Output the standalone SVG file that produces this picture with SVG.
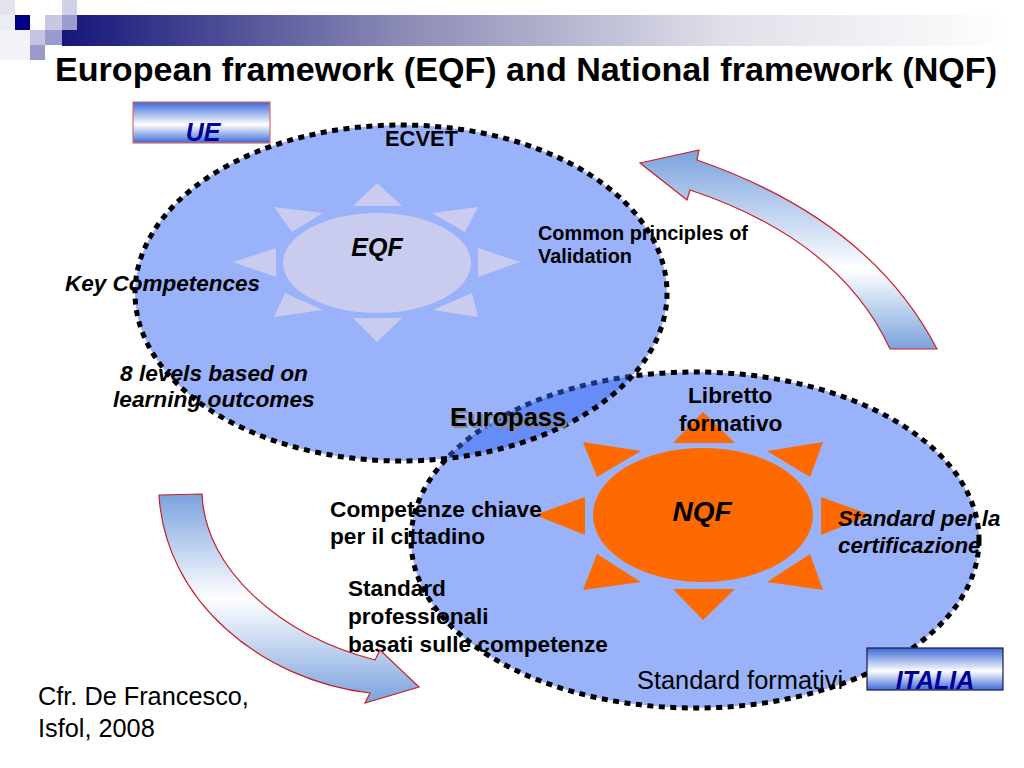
<svg xmlns="http://www.w3.org/2000/svg" width="1024" height="768" viewBox="0 0 1024 768">
<defs>
<linearGradient id="bar" x1="0" y1="0" x2="1" y2="0">
<stop offset="0" stop-color="#16167a"/>
<stop offset="0.35" stop-color="#8888b4"/>
<stop offset="0.7" stop-color="#e0e0ea"/>
<stop offset="1" stop-color="#ffffff"/>
</linearGradient>
<linearGradient id="box" x1="0" y1="0" x2="0" y2="1">
<stop offset="0" stop-color="#3b6ad6"/>
<stop offset="0.55" stop-color="#ffffff"/>
<stop offset="1" stop-color="#3b6ad6"/>
</linearGradient>
<linearGradient id="arrowA" x1="0" y1="0" x2="0" y2="1">
<stop offset="0" stop-color="#7aa2de"/>
<stop offset="0.6" stop-color="#ffffff"/>
<stop offset="1" stop-color="#7aa2de"/>
</linearGradient>
<linearGradient id="arrowB" x1="0" y1="0" x2="0" y2="1">
<stop offset="0" stop-color="#7aa2de"/>
<stop offset="0.5" stop-color="#ffffff"/>
<stop offset="1" stop-color="#7aa2de"/>
</linearGradient>
</defs>
<style>
text{font-family:"Liberation Sans",Arial,sans-serif;fill:#000}
.b{font-weight:bold}
.bi{font-weight:bold;font-style:italic}
.fill{fill:#3366f5;fill-opacity:0.5;stroke:none}
.border{fill:none;stroke:#000;stroke-width:5;stroke-dasharray:6 5.5}
.ray-e{fill:#c9ccee}
.ray-n{fill:#ff6a00}
.arr{stroke:#c8202a;stroke-width:1.2}
.lab{font-weight:bold;font-style:italic;fill:#000099;font-size:25px}
</style>
<rect width="1024" height="768" fill="#fff"/>
<g id="header">
<rect x="62" y="15" width="950" height="31" fill="url(#bar)"/>
<rect x="0" y="0" width="15" height="15" fill="#e4e4f1"/>
<rect x="0" y="15" width="15" height="15" fill="#ececf6"/>
<rect x="0" y="30" width="30" height="30" fill="#f2f2f8"/>
<rect x="15" y="15" width="15" height="15" fill="#000080"/>
<rect x="45" y="15" width="17" height="15" fill="#c8c8e2"/>
<rect x="62" y="0" width="15" height="15" fill="#d0d0e6"/>
<rect x="62" y="15" width="15" height="15" fill="#9c9ccd"/>
<rect x="30" y="30" width="15" height="15" fill="#c4c4de"/>
<rect x="45" y="30" width="17" height="15" fill="#9a9acb"/>
<rect x="30" y="45" width="15" height="15" fill="#9a9acb"/>
<text x="55" y="81" class="b" font-size="34" textLength="942" lengthAdjust="spacingAndGlyphs">European framework (EQF) and National framework (NQF)</text>
</g>
<g id="nqf-ellipse">
<ellipse class="fill" cx="695" cy="540" rx="284" ry="168"/>
</g>
<g id="nqf-sun">
<polygon class="ray-n" points="703,412 735,443 673,443"/>
<polygon class="ray-n" points="703,620 735,589 673,589"/>
<polygon class="ray-n" points="535,515 585,497 585,535"/>
<polygon class="ray-n" points="871,515 821,497 821,535"/>
<polygon class="ray-n" points="583,442 641,451 597,477"/>
<polygon class="ray-n" points="823,442 767,451 810,477"/>
<polygon class="ray-n" points="583,590 597,554 641,582"/>
<polygon class="ray-n" points="823,590 810,554 767,582"/>
<ellipse cx="703" cy="515" rx="110" ry="67" fill="#ff6a00"/>
<text x="702" y="521" class="bi" font-size="28" text-anchor="middle">NQF</text>
</g>
<g id="nqf-labels">
<text x="688" y="403" class="b" font-size="22.7">Libretto</text>
<text x="679" y="431" class="b" font-size="22.7">formativo</text>
<text x="330" y="517" class="b" font-size="22.7">Competenze chiave</text>
<text x="330" y="544" class="b" font-size="22.7">per il cittadino</text>
<text x="838" y="526" class="bi" font-size="22.3">Standard per la</text>
<text x="838" y="553" class="bi" font-size="22.3">certificazione</text>
<text x="348" y="596" class="b" font-size="22.6">Standard</text>
<text x="348" y="624" class="b" font-size="22.6">professionali</text>
<text x="348" y="652" class="b" font-size="22.6">basati sulle competenze</text>
<text x="637" y="689" font-size="25.4">Standard formativi</text>
</g>
<g id="nqf-border">
<ellipse class="border" cx="695" cy="540" rx="284" ry="168"/>
</g>
<g id="eqf-ellipse">
<ellipse class="fill" cx="401" cy="293" rx="266" ry="168"/>
</g>
<g id="eqf-sun">
<polygon class="ray-e" points="377,183 402,206 353,206"/>
<polygon class="ray-e" points="377,342 402,318 353,318"/>
<polygon class="ray-e" points="233,262 276,248 276,277"/>
<polygon class="ray-e" points="520,262 478,248 478,277"/>
<polygon class="ray-e" points="274,207 323,213 292,232"/>
<polygon class="ray-e" points="478,207 432,213 465,232"/>
<polygon class="ray-e" points="274,317 285,293 323,310"/>
<polygon class="ray-e" points="478,317 472,293 433,310"/>
<ellipse cx="377" cy="263" rx="94" ry="50" fill="#c9ccee"/>
<text x="377" y="256" class="bi" font-size="25" text-anchor="middle">EQF</text>
</g>
<g id="eqf-labels">
<text x="385" y="146" class="b" font-size="21.9">ECVET</text>
<text x="538" y="240" class="b" font-size="19.9">Common principles of</text>
<text x="538" y="263" class="b" font-size="19.9">Validation</text>
<text x="65" y="291" class="bi" font-size="22.5">Key Competences</text>
<text x="120" y="381" class="bi" font-size="22.7">8 levels based on</text>
<text x="113" y="407" class="bi" font-size="22.7">learning outcomes</text>
</g>
<g id="eqf-border">
<ellipse class="border" cx="401" cy="293" rx="266" ry="168"/>
</g>
<g id="europass">
<text x="452" y="428" class="b" font-size="25.5" style="fill:#8a8a8a">Europass</text>
<text x="450" y="426" class="b" font-size="25.5">Europass</text>
</g>
<g id="ue-box">
<rect x="133" y="102" width="137" height="41" fill="url(#box)" stroke="#e06a6a" stroke-width="1.2"/>
<text x="203" y="141" class="lab" text-anchor="middle">UE</text>
</g>
<g id="italia-box">
<rect x="867" y="648" width="136" height="42" fill="url(#box)" stroke="#1a1a4a" stroke-width="1.2"/>
<text x="935" y="689" class="lab" text-anchor="middle">ITALIA</text>
</g>
<g id="connectors">
<path class="arr" fill="url(#arrowA)" d="M640,163 L699,150 L697,160 Q870,220 937,349 L890,349 Q840,240 690,190 L687,200 Z"/>
<path class="arr" fill="url(#arrowB)" d="M159,495 L202,494 C205,570 280,635 375,660 L380,650 L419,687 L365,703 L370,693 C260,680 165,600 159,495 Z"/>
</g>
<g id="source">
<text x="38" y="705" font-size="25.3">Cfr. De Francesco,</text>
<text x="38" y="737" font-size="25.3">Isfol, 2008</text>
</g>
</svg>
